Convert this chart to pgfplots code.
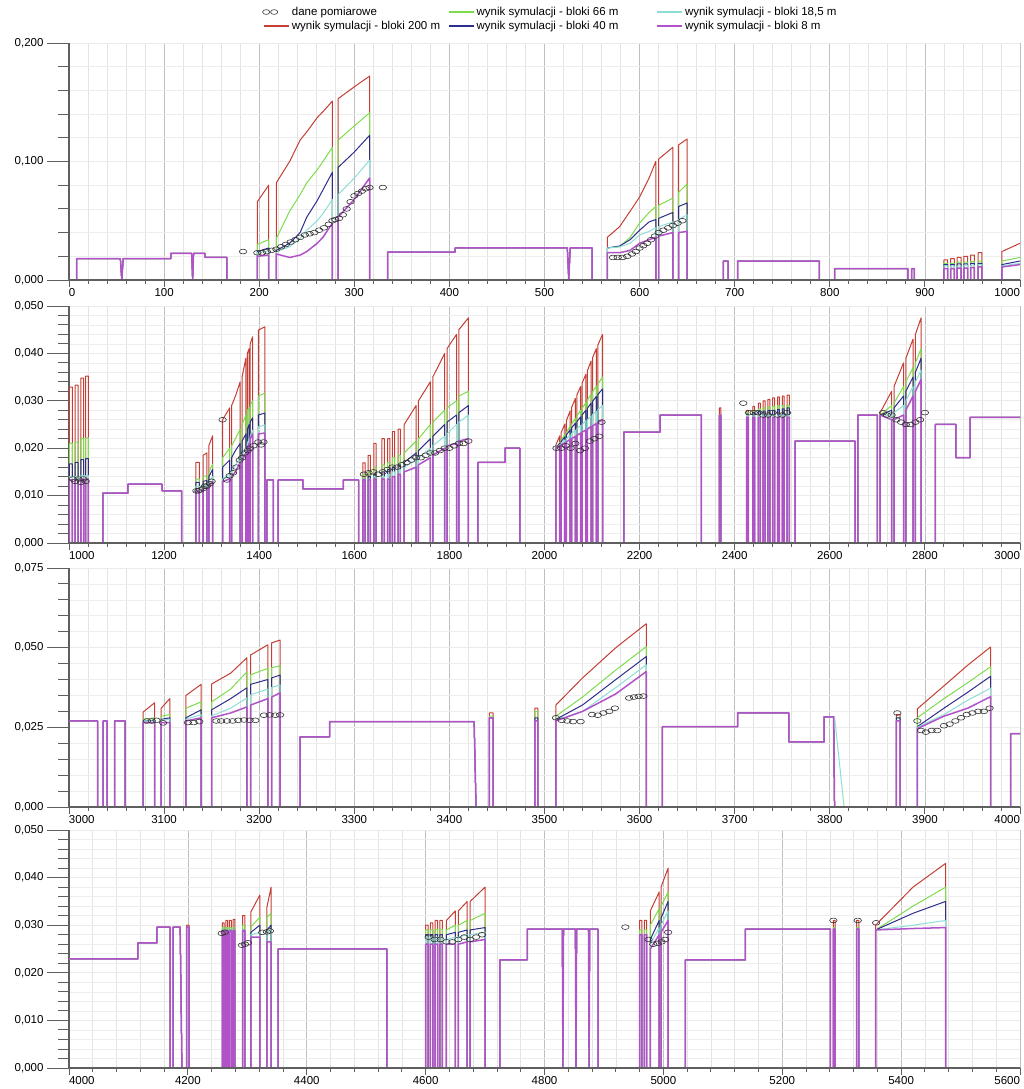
\documentclass[border=0pt]{standalone}
\usepackage{fontspec}
\setmainfont{Liberation Sans}
\usepackage{pgfplots}
\usepackage{pgfplotstable}
\pgfplotsset{compat=1.18}
\definecolor{cR}{RGB}{196,62,52}
\definecolor{cG}{RGB}{125,220,75}
\definecolor{cB}{RGB}{45,45,140}
\definecolor{cC}{RGB}{140,222,215}
\definecolor{cP}{RGB}{178,82,200}
\definecolor{axg}{RGB}{95,95,95}

\newcommand{\xnum}{\pgfmathprintnumber[assume math mode=true,1000 sep={}]{\tick}}
\pgfplotsset{
  panel/.style={
    scale only axis, width=951pt,
    axis lines*=left,
    axis line style={draw=axg, line width=1.1pt, -},
    tick align=outside,
    major tick length=22pt, minor tick length=11pt,
    ytick style={draw=axg, line width=0.9pt},
    xtick style={draw=axg, line width=0.9pt, /pgfplots/major tick length=7pt, /pgfplots/minor tick length=4pt},
    grid=both,
    major x grid style={draw=gray!50, line width=0.7pt},
    minor x grid style={draw=gray!22, line width=0.6pt},
    major y grid style={draw=gray!16, line width=0.6pt},
    minor y grid style={draw=gray!14, line width=0.6pt},
    minor x tick num=4, minor y tick num=4,
    scaled y ticks=false, scaled x ticks=false,
    yticklabel style={/pgf/number format/fixed, /pgf/number format/fixed zerofill, /pgf/number format/precision=3, /pgf/number format/use comma, /pgf/number format/assume math mode=true},
    xticklabel shift=-17pt,
    tick label style={font=\fontsize{11.5}{13}\selectfont},
    every axis plot/.append style={line width=1pt, line join=round},
  },
  xlab/.style={xticklabel={\ifnum\ticknum=0\relax\rlap{\xnum}\else\ifnum\ticknum=#1\relax\llap{\xnum}\else\xnum\fi\fi}},
  circ/.style={only marks, mark=o, mark size=2.8pt, mark options={xscale=1.35, yscale=0.85, line width=0.6pt, draw=black!80}},
  purp/.style={cP, line width=1.5pt},
}

\pgfplotstableread{
x r g b c p
0 0 0 0 0 0
8 0 0 0 0 0
8 0.018 0.018 0.018 0.018 0.018
54 0.018 0.018 0.018 0.018 0.018
55.5 0 0 0 0 0
57 0.018 0.018 0.018 0.018 0.018
107 0.018 0.018 0.018 0.018 0.018
107 0.0225 0.0225 0.0225 0.0225 0.0225
129 0.0225 0.0225 0.0225 0.0225 0.0225
130 0 0 0 0 0
131 0.0225 0.0225 0.0225 0.0225 0.0225
143 0.0225 0.0225 0.0225 0.0225 0.0225
143 0.019 0.019 0.019 0.019 0.019
166 0.019 0.019 0.019 0.019 0.019
166 0 0 0 0 0
198 0 0 0 0 0
198 0.066 0.030 0.024 0.023 0.020
210 0.080 0.034 0.027 0.0245 0.021
210 0 0 0 0 0
218 0 0 0 0 0
218 0.082 0.035 0.025 0.024 0.022
232 0.100 0.058 0.031 0.028 0.019
243 0.118 0.072 0.040 0.035 0.021
250 0.125 0.082 0.053 0.042 0.024
261 0.137 0.093 0.067 0.050 0.031
267 0.142 0.100 0.076 0.056 0.036
277 0.151 0.112 0.091 0.068 0.048
277 0 0 0 0 0
283 0 0 0 0 0
283 0.153 0.118 0.095 0.072 0.053
300 0.163 0.130 0.108 0.086 0.068
316 0.172 0.141 0.122 0.101 0.086
316 0 0 0 0 0
335 0 0 0 0 0
335 0.0236 0.0236 0.0236 0.0236 0.0236
406 0.0236 0.0236 0.0236 0.0236 0.0236
406 0.027 0.027 0.027 0.027 0.027
524 0.027 0.027 0.027 0.027 0.027
525.5 0 0 0 0 0
527 0.027 0.027 0.027 0.027 0.027
550 0.027 0.027 0.027 0.027 0.027
550 0 0 0 0 0
566 0 0 0 0 0
566 0.036 0.027 0.027 0.027 0.023
579 0.045 0.028 0.0287 0.028 0.023
590 0.058 0.036 0.034 0.031 0.025
600 0.070 0.048 0.042 0.038 0.031
610 0.086 0.057 0.049 0.041 0.034
617 0.100 0.062 0.051 0.044 0.036
617 0 0 0 0 0
620 0 0 0 0 0
620 0.102 0.063 0.052 0.045 0.037
635 0.112 0.069 0.057 0.049 0.040
635 0 0 0 0 0
641 0 0 0 0 0
641 0.114 0.074 0.062 0.051 0.040
650 0.119 0.081 0.065 0.055 0.041
650 0 0 0 0 0
688 0 0 0 0 0
688 0.016 0.016 0.016 0.016 0.016
693 0.016 0.016 0.016 0.016 0.016
693 0 0 0 0 0
703 0 0 0 0 0
703 0.016 0.016 0.016 0.016 0.016
789 0.016 0.016 0.016 0.016 0.016
789 0 0 0 0 0
805 0 0 0 0 0
805 0.0095 0.0095 0.0095 0.0095 0.0095
882 0.0095 0.0095 0.0095 0.0095 0.0095
882 0 0 0 0 0
886 0 0 0 0 0
886 0.0095 0.0095 0.0095 0.0095 0.0095
889 0.0095 0.0095 0.0095 0.0095 0.0095
889 0 0 0 0 0
920 0 0 0 0 0
920 0.017 0.014 0.013 0.012 0.0095
924 0.017 0.014 0.013 0.012 0.0095
924 0 0 0 0 0
927 0 0 0 0 0
927 0.018 0.014 0.013 0.012 0.0095
931 0.018 0.014 0.013 0.012 0.0095
931 0 0 0 0 0
934 0 0 0 0 0
934 0.019 0.015 0.0135 0.012 0.010
938 0.019 0.015 0.0135 0.012 0.010
938 0 0 0 0 0
941 0 0 0 0 0
941 0.020 0.015 0.0135 0.0125 0.010
945 0.020 0.015 0.0135 0.0125 0.010
945 0 0 0 0 0
948 0 0 0 0 0
948 0.021 0.0155 0.014 0.0125 0.0105
952 0.021 0.0155 0.014 0.0125 0.0105
952 0 0 0 0 0
956 0 0 0 0 0
956 0.023 0.016 0.014 0.013 0.011
960 0.023 0.016 0.014 0.013 0.011
960 0 0 0 0 0
981 0 0 0 0 0
981 0.024 0.016 0.013 0.012 0.011
1000 0.031 0.019 0.016 0.014 0.013
}\Tone

\pgfplotstableread{
x y
183 0.024
198 0.023
203 0.023
208 0.024
213 0.025
218 0.026
223 0.028
228 0.030
233 0.032
238 0.034
243 0.036
248 0.038
253 0.039
258 0.040
263 0.042
268 0.044
273 0.047
277 0.050
280 0.051
284 0.052
288 0.055
292 0.060
296 0.066
300 0.071
304 0.073
308 0.075
312 0.077
316 0.078
330 0.078
572 0.019
577 0.019
582 0.019
587 0.020
592 0.022
596 0.024
600 0.027
604 0.029
608 0.031
612 0.034
616 0.037
620 0.040
625 0.042
630 0.044
635 0.046
640 0.048
645 0.050
}\Mone

\pgfplotstableread{
x r g b c p
1000 0 0 0 0 0
1001 0 0 0 0 0
1001 0.0329 0.021 0.0167 0.014 0.0133
1007 0.0329 0.021 0.0167 0.014 0.0133
1007 0 0 0 0 0
1013 0 0 0 0 0
1013 0.0333 0.0213 0.017 0.014 0.0133
1019 0.0333 0.0213 0.017 0.014 0.0133
1019 0 0 0 0 0
1025 0 0 0 0 0
1025 0.0348 0.022 0.0176 0.0142 0.0135
1031 0.0348 0.022 0.0176 0.0142 0.0135
1031 0 0 0 0 0
1035 0 0 0 0 0
1035 0.0352 0.0222 0.0178 0.0142 0.0135
1041 0.0352 0.0222 0.0178 0.0142 0.0135
1041 0 0 0 0 0
1071 0 0 0 0 0
1071 0.0105 0.0105 0.0105 0.0105 0.0105
1124 0.0105 0.0105 0.0105 0.0105 0.0105
1124 0.0124 0.0124 0.0124 0.0124 0.0124
1196 0.0124 0.0124 0.0124 0.0124 0.0124
1196 0.011 0.011 0.011 0.011 0.011
1237 0.011 0.011 0.011 0.011 0.011
1237 0 0 0 0 0
1267 0 0 0 0 0
1267 0.017 0.0135 0.0128 0.012 0.011
1274 0.017 0.0135 0.0128 0.012 0.011
1274 0 0 0 0 0
1282 0 0 0 0 0
1282 0.0185 0.014 0.013 0.012 0.0115
1290 0.019 0.0142 0.0132 0.0122 0.0115
1290 0 0 0 0 0
1294 0 0 0 0 0
1294 0.0205 0.015 0.014 0.013 0.012
1302 0.0226 0.0166 0.0155 0.014 0.013
1302 0 0 0 0 0
1323 0 0 0 0 0
1323 0.026 0.018 0.016 0.0135 0.013
1338 0.0285 0.020 0.0175 0.0145 0.0135
1338 0 0 0 0 0
1342 0 0 0 0 0
1342 0.029 0.0205 0.018 0.015 0.014
1350 0.031 0.022 0.0195 0.0165 0.015
1360 0.034 0.024 0.021 0.018 0.017
1360 0 0 0 0 0
1364 0 0 0 0 0
1364 0.035 0.025 0.0215 0.0185 0.0175
1372 0.039 0.027 0.023 0.020 0.019
1372 0 0 0 0 0
1375 0 0 0 0 0
1375 0.040 0.028 0.024 0.021 0.020
1379 0.041 0.0285 0.025 0.022 0.021
1379 0 0 0 0 0
1381 0 0 0 0 0
1381 0.042 0.029 0.0255 0.0225 0.022
1386 0.0435 0.030 0.0264 0.0238 0.023
1386 0 0 0 0 0
1398 0 0 0 0 0
1398 0.0449 0.031 0.027 0.0245 0.023
1412 0.0456 0.0316 0.0274 0.0249 0.0232
1412 0 0 0 0 0
1416 0 0 0 0 0
1416 0.0133 0.0133 0.0133 0.0133 0.0133
1430 0.0133 0.0133 0.0133 0.0133 0.0133
1430 0 0 0 0 0
1440 0 0 0 0 0
1440 0.0133 0.0133 0.0133 0.0133 0.0133
1492 0.0133 0.0133 0.0133 0.0133 0.0133
1492 0.0114 0.0114 0.0114 0.0114 0.0114
1577 0.0114 0.0114 0.0114 0.0114 0.0114
1577 0.0133 0.0133 0.0133 0.0133 0.0133
1609 0.0133 0.0133 0.0133 0.0133 0.0133
1609 0 0 0 0 0
1618 0 0 0 0 0
1618 0.0169 0.0145 0.0135 0.0135 0.0133
1623 0.0169 0.0145 0.0135 0.0135 0.0133
1623 0 0 0 0 0
1629 0 0 0 0 0
1629 0.0185 0.015 0.014 0.0135 0.0133
1634 0.0185 0.015 0.014 0.0135 0.0133
1634 0 0 0 0 0
1641 0 0 0 0 0
1641 0.021 0.016 0.0145 0.014 0.0135
1646 0.021 0.016 0.0145 0.014 0.0135
1646 0 0 0 0 0
1658 0 0 0 0 0
1658 0.022 0.0165 0.015 0.014 0.0135
1663 0.022 0.0165 0.015 0.014 0.0135
1663 0 0 0 0 0
1670 0 0 0 0 0
1670 0.022 0.017 0.0155 0.0145 0.0135
1675 0.022 0.017 0.0155 0.0145 0.0135
1675 0 0 0 0 0
1680 0 0 0 0 0
1680 0.0235 0.018 0.016 0.015 0.014
1685 0.0235 0.018 0.016 0.015 0.014
1685 0 0 0 0 0
1692 0 0 0 0 0
1692 0.024 0.0185 0.0165 0.0155 0.0145
1697 0.024 0.0185 0.0165 0.0155 0.0145
1697 0 0 0 0 0
1705 0 0 0 0 0
1705 0.025 0.019 0.017 0.016 0.015
1730 0.029 0.0215 0.019 0.0175 0.016
1730 0 0 0 0 0
1735 0 0 0 0 0
1735 0.030 0.022 0.0195 0.018 0.0165
1760 0.034 0.025 0.022 0.020 0.018
1760 0 0 0 0 0
1765 0 0 0 0 0
1765 0.035 0.0255 0.0225 0.0205 0.0185
1790 0.040 0.028 0.025 0.0225 0.020
1790 0 0 0 0 0
1795 0 0 0 0 0
1795 0.041 0.0285 0.0255 0.023 0.0205
1815 0.044 0.030 0.027 0.025 0.021
1815 0 0 0 0 0
1820 0 0 0 0 0
1820 0.045 0.031 0.0275 0.0255 0.0215
1840 0.0475 0.032 0.029 0.027 0.022
1840 0 0 0 0 0
1860 0 0 0 0 0
1860 0.017 0.017 0.017 0.017 0.017
1917 0.017 0.017 0.017 0.017 0.017
1917 0.020 0.020 0.020 0.020 0.020
1948 0.020 0.020 0.020 0.020 0.020
1948 0 0 0 0 0
2024 0 0 0 0 0
2024 0.0207 0.0200 0.0200 0.0200 0.0200
2032 0.0226 0.0212 0.0210 0.0207 0.0205
2032 0 0 0 0 0
2035 0 0 0 0 0
2035 0.0233 0.0217 0.0214 0.0210 0.0207
2043 0.0251 0.0229 0.0224 0.0217 0.0211
2043 0 0 0 0 0
2046 0 0 0 0 0
2046 0.0258 0.0233 0.0228 0.0220 0.0213
2054 0.0279 0.0247 0.0239 0.0228 0.0219
2054 0 0 0 0 0
2057 0 0 0 0 0
2057 0.0286 0.0251 0.0243 0.0231 0.0220
2065 0.0305 0.0263 0.0253 0.0238 0.0225
2065 0 0 0 0 0
2068 0 0 0 0 0
2068 0.0312 0.0268 0.0256 0.0241 0.0227
2076 0.0330 0.0280 0.0266 0.0248 0.0232
2076 0 0 0 0 0
2079 0 0 0 0 0
2079 0.0337 0.0284 0.0270 0.0250 0.0234
2087 0.0356 0.0296 0.0280 0.0258 0.0238
2087 0 0 0 0 0
2090 0 0 0 0 0
2090 0.0363 0.0301 0.0284 0.0260 0.0240
2098 0.0384 0.0314 0.0295 0.0268 0.0246
2098 0 0 0 0 0
2101 0 0 0 0 0
2101 0.0391 0.0319 0.0299 0.0271 0.0247
2109 0.0410 0.0331 0.0309 0.0278 0.0252
2109 0 0 0 0 0
2112 0 0 0 0 0
2112 0.0417 0.0335 0.0313 0.0281 0.0254
2122 0.0440 0.0350 0.0325 0.0290 0.0260
2122 0 0 0 0 0
2167 0 0 0 0 0
2167 0.0234 0.0234 0.0234 0.0234 0.0234
2243 0.0234 0.0234 0.0234 0.0234 0.0234
2243 0.027 0.027 0.027 0.027 0.027
2330 0.027 0.027 0.027 0.027 0.027
2330 0 0 0 0 0
2368 0 0 0 0 0
2368 0.0285 0.027 0.027 0.027 0.027
2371 0.0285 0.027 0.027 0.027 0.027
2371 0 0 0 0 0
2425 0 0 0 0 0
2425 0.0280 0.0275 0.0272 0.027 0.0265
2429 0.0280 0.0275 0.0272 0.027 0.0265
2429 0 0 0 0 0
2438 0 0 0 0 0
2438 0.0288 0.028 0.0275 0.027 0.0265
2442 0.0288 0.028 0.0275 0.027 0.0265
2442 0 0 0 0 0
2450 0 0 0 0 0
2450 0.0295 0.0283 0.0277 0.027 0.0265
2454 0.0295 0.0283 0.0277 0.027 0.0265
2454 0 0 0 0 0
2460 0 0 0 0 0
2460 0.030 0.0285 0.0278 0.027 0.0265
2464 0.030 0.0285 0.0278 0.027 0.0265
2464 0 0 0 0 0
2470 0 0 0 0 0
2470 0.0303 0.0287 0.028 0.027 0.0265
2474 0.0303 0.0287 0.028 0.027 0.0265
2474 0 0 0 0 0
2480 0 0 0 0 0
2480 0.0306 0.0288 0.028 0.027 0.0265
2484 0.0306 0.0288 0.028 0.027 0.0265
2484 0 0 0 0 0
2490 0 0 0 0 0
2490 0.0308 0.029 0.0282 0.027 0.0265
2494 0.0308 0.029 0.0282 0.027 0.0265
2494 0 0 0 0 0
2500 0 0 0 0 0
2500 0.031 0.029 0.0283 0.027 0.0265
2504 0.031 0.029 0.0283 0.027 0.0265
2504 0 0 0 0 0
2510 0 0 0 0 0
2510 0.0312 0.029 0.0285 0.027 0.0265
2515 0.0312 0.029 0.0285 0.027 0.0265
2515 0 0 0 0 0
2527 0 0 0 0 0
2527 0.0215 0.0215 0.0215 0.0215 0.0215
2653 0.0215 0.0215 0.0215 0.0215 0.0215
2653 0 0 0 0 0
2659 0 0 0 0 0
2659 0.027 0.027 0.027 0.027 0.027
2700 0.027 0.027 0.027 0.027 0.027
2700 0 0 0 0 0
2706 0 0 0 0 0
2706 0.0275 0.027 0.027 0.027 0.027
2730 0.032 0.029 0.028 0.027 0.026
2730 0 0 0 0 0
2735 0 0 0 0 0
2735 0.033 0.0295 0.0285 0.0275 0.026
2755 0.038 0.033 0.031 0.029 0.027
2755 0 0 0 0 0
2760 0 0 0 0 0
2760 0.039 0.034 0.032 0.030 0.028
2775 0.043 0.037 0.035 0.033 0.031
2775 0 0 0 0 0
2780 0 0 0 0 0
2780 0.044 0.038 0.036 0.034 0.032
2792 0.0475 0.041 0.039 0.0365 0.0345
2792 0 0 0 0 0
2822 0 0 0 0 0
2822 0.025 0.025 0.025 0.025 0.025
2865 0.025 0.025 0.025 0.025 0.025
2865 0.018 0.018 0.018 0.018 0.018
2895 0.018 0.018 0.018 0.018 0.018
2895 0.0265 0.0265 0.0265 0.0265 0.0265
3000 0.0265 0.0265 0.0265 0.0265 0.0265
}\Ttwo

\pgfplotstableread{
x y
1008 0.0135
1013 0.013
1020 0.0135
1025 0.0128
1030 0.0135
1035 0.013
1268 0.011
1272 0.011
1276 0.0112
1282 0.0115
1286 0.012
1290 0.012
1296 0.0125
1300 0.013
1323 0.026
1332 0.0133
1338 0.0142
1345 0.0148
1352 0.016
1359 0.0175
1364 0.018
1370 0.019
1376 0.0195
1381 0.020
1388 0.0205
1398 0.0213
1404 0.0207
1409 0.0213
1620 0.0145
1630 0.0148
1640 0.015
1650 0.0145
1660 0.015
1670 0.0155
1680 0.016
1690 0.016
1700 0.0165
1710 0.017
1720 0.0175
1730 0.018
1740 0.018
1750 0.0185
1760 0.019
1770 0.019
1780 0.0195
1790 0.020
1800 0.020
1810 0.0205
1820 0.021
1830 0.021
1840 0.0215
2025 0.020
2035 0.020
2045 0.0205
2055 0.020
2065 0.021
2075 0.0195
2085 0.020
2095 0.0215
2105 0.022
2115 0.0225
2120 0.0255
2418 0.0295
2430 0.0275
2440 0.0275
2450 0.0275
2460 0.027
2470 0.027
2480 0.0275
2490 0.027
2500 0.027
2510 0.0275
2712 0.0275
2720 0.027
2730 0.027
2740 0.026
2750 0.0255
2760 0.025
2770 0.025
2780 0.0255
2790 0.026
2800 0.0275
}\Mtwo

\pgfplotstableread{
x r g b c p
3000 0.027 0.027 0.027 0.027 0.027
3030 0.027 0.027 0.027 0.027 0.027
3030 0 0 0 0 0
3036 0 0 0 0 0
3036 0.027 0.027 0.027 0.027 0.027
3040 0.027 0.027 0.027 0.027 0.027
3040 0 0 0 0 0
3048 0 0 0 0 0
3048 0.027 0.027 0.027 0.027 0.027
3059 0.027 0.027 0.027 0.027 0.027
3059 0 0 0 0 0
3078 0 0 0 0 0
3078 0.0298 0.0275 0.027 0.027 0.0265
3090 0.0327 0.028 0.0272 0.027 0.0265
3090 0 0 0 0 0
3097 0 0 0 0 0
3097 0.031 0.0285 0.0275 0.0272 0.0265
3106 0.034 0.029 0.028 0.0275 0.0265
3106 0 0 0 0 0
3123 0 0 0 0 0
3123 0.035 0.031 0.028 0.0275 0.027
3139 0.0385 0.033 0.0305 0.029 0.028
3139 0 0 0 0 0
3150 0 0 0 0 0
3150 0.0386 0.033 0.0305 0.0286 0.028
3170 0.042 0.037 0.034 0.031 0.0295
3187 0.0468 0.0424 0.0374 0.0342 0.0314
3187 0 0 0 0 0
3191 0 0 0 0 0
3191 0.0477 0.0415 0.0385 0.0352 0.032
3209 0.0509 0.0435 0.0400 0.0370 0.0340
3209 0 0 0 0 0
3213 0 0 0 0 0
3213 0.0515 0.0437 0.0405 0.0375 0.0345
3222 0.0524 0.0443 0.0414 0.0383 0.0358
3222 0 0 0 0 0
3243 0 0 0 0 0
3243 0.022 0.022 0.022 0.022 0.022
3274 0.022 0.022 0.022 0.022 0.022
3274 0.0268 0.0268 0.0268 0.0268 0.0268
3426 0.0268 0.0268 0.0268 0.0268 0.0268
3428 0 0 0 0 0
3442 0 0 0 0 0
3442 0.0295 0.0285 0.028 0.028 0.028
3446 0.0295 0.0285 0.028 0.028 0.028
3446 0 0 0 0 0
3490 0 0 0 0 0
3490 0.031 0.030 0.028 0.027 0.027
3493 0.031 0.030 0.028 0.027 0.027
3493 0 0 0 0 0
3512 0 0 0 0 0
3512 0.032 0.0285 0.0275 0.0272 0.027
3540 0.0405 0.0345 0.032 0.030 0.030
3575 0.050 0.043 0.040 0.0375 0.0355
3607 0.0575 0.0503 0.0472 0.0446 0.0425
3607 0 0 0 0 0
3624 0 0 0 0 0
3624 0.0252 0.0252 0.0252 0.0252 0.0252
3703 0.0252 0.0252 0.0252 0.0252 0.0252
3703 0.0295 0.0295 0.0295 0.0295 0.0295
3757 0.0295 0.0295 0.0295 0.0295 0.0295
3757 0.0204 0.0204 0.0204 0.0204 0.0204
3794 0.0204 0.0204 0.0204 0.0204 0.0204
3794 0.0283 0.0283 0.0283 0.0283 0.0283
3804 0.0283 0.0283 0.0283 0.0283 0.0283
3805 0 0 0 0.0283 0
3815 0 0 0 0 0
3870 0 0 0 0 0
3870 0.029 0.028 0.028 0.027 0.027
3874 0.029 0.028 0.028 0.027 0.027
3874 0 0 0 0 0
3892 0 0 0 0 0
3892 0.0308 0.028 0.0252 0.025 0.0246
3920 0.038 0.034 0.031 0.029 0.0285
3945 0.0445 0.039 0.036 0.0335 0.031
3969 0.0502 0.044 0.041 0.0373 0.0346
3969 0 0 0 0 0
3990 0 0 0 0 0
3990 0.023 0.023 0.023 0.023 0.023
4000 0.023 0.023 0.023 0.023 0.023
}\Tthree

\pgfplotstableread{
x y
3082 0.027
3087 0.027
3092 0.0272
3099 0.0264
3125 0.0265
3131 0.0265
3137 0.0268
3155 0.027
3160 0.027
3166 0.027
3172 0.027
3178 0.0272
3184 0.0273
3190 0.0272
3196 0.0272
3205 0.0288
3211 0.0289
3217 0.0288
3222 0.0289
3512 0.028
3518 0.0272
3524 0.027
3530 0.0268
3538 0.0268
3550 0.029
3556 0.0288
3562 0.0295
3568 0.030
3574 0.031
3589 0.0342
3594 0.0345
3599 0.0347
3604 0.0348
3871 0.0295
3892 0.027
3896 0.024
3901 0.0235
3907 0.024
3913 0.024
3920 0.0255
3926 0.026
3932 0.027
3938 0.028
3944 0.029
3950 0.0295
3956 0.030
3962 0.030
3968 0.031
}\Mthree

\pgfplotstableread{
x r g b c p
4000 0.0229 0.0229 0.0229 0.0229 0.0229
4116 0.0229 0.0229 0.0229 0.0229 0.0229
4116 0.0263 0.0263 0.0263 0.0263 0.0263
4148 0.0263 0.0263 0.0263 0.0263 0.0263
4148 0.0296 0.0296 0.0296 0.0296 0.0296
4170 0.0296 0.0296 0.0296 0.0296 0.0296
4170 0 0 0 0 0
4175 0 0 0 0 0
4175 0.0296 0.0296 0.0296 0.0296 0.0296
4187 0.0296 0.0296 0.0296 0.0296 0.0296
4190 0 0 0 0 0
4198 0 0 0 0 0
4198 0.030 0.0296 0.0296 0.0296 0.0296
4202 0.030 0.0296 0.0296 0.0296 0.0296
4202 0 0 0 0 0
4258 0 0 0 0 0
4258 0.0305 0.0295 0.029 0.029 0.0288
4261 0.0305 0.0295 0.029 0.029 0.0288
4261 0 0 0 0 0
4264 0 0 0 0 0
4264 0.031 0.0295 0.029 0.029 0.0288
4267 0.031 0.0295 0.029 0.029 0.0288
4267 0 0 0 0 0
4270 0 0 0 0 0
4270 0.031 0.0295 0.029 0.029 0.0288
4273 0.031 0.0295 0.029 0.029 0.0288
4273 0 0 0 0 0
4276 0 0 0 0 0
4276 0.0312 0.0295 0.029 0.029 0.0288
4279 0.0312 0.0295 0.029 0.029 0.0288
4279 0 0 0 0 0
4292 0 0 0 0 0
4292 0.032 0.030 0.029 0.029 0.0288
4296 0.032 0.030 0.029 0.029 0.0288
4296 0 0 0 0 0
4306 0 0 0 0 0
4306 0.0328 0.0296 0.0285 0.028 0.0275
4321 0.0363 0.0317 0.030 0.0285 0.0275
4321 0 0 0 0 0
4333 0 0 0 0 0
4333 0.0338 0.0317 0.029 0.0285 0.0265
4340 0.038 0.0325 0.030 0.029 0.0265
4340 0 0 0 0 0
4352 0 0 0 0 0
4352 0.025 0.025 0.025 0.025 0.025
4535 0.025 0.025 0.025 0.025 0.025
4535 0 0 0 0 0
4600 0 0 0 0 0
4600 0.030 0.029 0.028 0.0275 0.026
4604 0.030 0.029 0.028 0.0275 0.026
4604 0 0 0 0 0
4608 0 0 0 0 0
4608 0.0305 0.029 0.028 0.0275 0.026
4612 0.0305 0.029 0.028 0.0275 0.026
4612 0 0 0 0 0
4616 0 0 0 0 0
4616 0.031 0.0292 0.028 0.0275 0.026
4620 0.031 0.0292 0.028 0.0275 0.026
4620 0 0 0 0 0
4624 0 0 0 0 0
4624 0.031 0.0292 0.028 0.0275 0.026
4628 0.031 0.0292 0.028 0.0275 0.026
4628 0 0 0 0 0
4635 0 0 0 0 0
4635 0.031 0.029 0.028 0.027 0.026
4650 0.033 0.030 0.0285 0.0275 0.026
4650 0 0 0 0 0
4655 0 0 0 0 0
4655 0.033 0.030 0.0285 0.0275 0.026
4670 0.035 0.031 0.029 0.028 0.0265
4670 0 0 0 0 0
4675 0 0 0 0 0
4675 0.035 0.031 0.029 0.028 0.0265
4700 0.038 0.0325 0.0295 0.0285 0.027
4700 0 0 0 0 0
4725 0 0 0 0 0
4725 0.0227 0.0227 0.0227 0.0227 0.0227
4771 0.0227 0.0227 0.0227 0.0227 0.0227
4771 0.0292 0.0292 0.0292 0.0292 0.0292
4830 0.0292 0.0292 0.0292 0.0292 0.0292
4831 0 0 0 0 0
4832 0.0292 0.0292 0.0292 0.0292 0.0292
4852 0.0292 0.0292 0.0292 0.0292 0.0292
4853 0 0 0 0 0
4854 0.0292 0.0292 0.0292 0.0292 0.0292
4874 0.0292 0.0292 0.0292 0.0292 0.0292
4875 0 0 0 0 0
4876 0.0292 0.0292 0.0292 0.0292 0.0292
4890 0.0292 0.0292 0.0292 0.0292 0.0292
4890 0 0 0 0 0
4960 0 0 0 0 0
4960 0.031 0.029 0.028 0.028 0.028
4964 0.031 0.029 0.028 0.028 0.028
4964 0 0 0 0 0
4968 0 0 0 0 0
4968 0.031 0.029 0.028 0.028 0.028
4972 0.031 0.029 0.028 0.028 0.028
4972 0 0 0 0 0
4978 0 0 0 0 0
4978 0.033 0.030 0.027 0.026 0.025
4993 0.037 0.0335 0.031 0.0295 0.028
4993 0 0 0 0 0
4996 0 0 0 0 0
4996 0.038 0.034 0.0315 0.030 0.0285
5008 0.042 0.037 0.035 0.033 0.031
5008 0 0 0 0 0
5037 0 0 0 0 0
5037 0.0227 0.0227 0.0227 0.0227 0.0227
5138 0.0227 0.0227 0.0227 0.0227 0.0227
5138 0.0292 0.0292 0.0292 0.0292 0.0292
5281 0.0292 0.0292 0.0292 0.0292 0.0292
5281 0 0 0 0 0
5286 0 0 0 0 0
5286 0.031 0.0295 0.0292 0.0292 0.0292
5289 0.031 0.0295 0.0292 0.0292 0.0292
5289 0 0 0 0 0
5325 0 0 0 0 0
5325 0.031 0.0295 0.0292 0.0292 0.0292
5329 0.031 0.0295 0.0292 0.0292 0.0292
5329 0 0 0 0 0
5357 0 0 0 0 0
5357 0.030 0.029 0.029 0.029 0.029
5420 0.038 0.034 0.0325 0.030 0.0293
5475 0.043 0.038 0.035 0.031 0.0295
5475 0 0 0 0 0
5600 0 0 0 0 0
}\Tfour

\pgfplotstableread{
x y
4257 0.0283
4262 0.0285
4291 0.0258
4296 0.026
4301 0.0263
4325 0.0285
4333 0.0286
4338 0.0288
4605 0.0275
4615 0.027
4625 0.027
4635 0.0265
4645 0.0265
4655 0.027
4665 0.0275
4675 0.027
4685 0.0275
4695 0.028
4936 0.0296
4975 0.027
4983 0.026
4990 0.0262
4997 0.0265
5003 0.027
5008 0.0285
5286 0.031
5327 0.031
5358 0.0305
}\Mfour

\begin{document}
\begin{tikzpicture}
\useasboundingbox (0,0) rectangle (1024pt,1089pt);

% ---------- panel 1 ----------
\begin{axis}[panel, xlab=10, at={(69pt,809pt)}, anchor=south west, height=237pt,
  xmin=0, xmax=1000, ymin=0, ymax=0.2,
  xtick={0,100,200,300,400,500,600,700,800,900,1000},
  ytick={0,0.1,0.2},
  legend columns=3,
  legend cell align=left,
  legend image code/.code={\draw[#1] (0pt,0pt) -- (25pt,0pt);},
  legend style={draw=none, fill=none, inner sep=0pt,
    font=\fontsize{11.5}{13.5}\selectfont,
    at={(0.203,1)}, anchor=south west, yshift=10pt,
    /tikz/column 2/.style={column sep=6pt},
    /tikz/column 4/.style={column sep=36pt}},
]
\addlegendimage{legend image code/.code={\draw[black!80, line width=0.6pt] (2pt,0pt) ellipse (3.6pt and 2.4pt); \draw[black!80, line width=0.6pt] (10pt,0pt) ellipse (3.6pt and 2.4pt);}}
\addlegendentry{dane pomiarowe}
\addlegendimage{cG, line width=1.5pt}
\addlegendentry{wynik symulacji - bloki 66 m}
\addlegendimage{cC, line width=1.5pt}
\addlegendentry{wynik symulacji - bloki 18,5 m}
\addlegendimage{cR, line width=1.5pt}
\addlegendentry{wynik symulacji - bloki 200 m}
\addlegendimage{cB, line width=1.5pt}
\addlegendentry{wynik symulacji - bloki 40 m}
\addlegendimage{cP, line width=1.5pt}
\addlegendentry{wynik symulacji - bloki 8 m}
\addplot[cR, forget plot] table[x=x, y=r] {\Tone};
\addplot[cG, forget plot] table[x=x, y=g] {\Tone};
\addplot[cB, forget plot] table[x=x, y=b] {\Tone};
\addplot[cC, forget plot] table[x=x, y=c] {\Tone};
\addplot[purp, forget plot] table[x=x, y=p] {\Tone};
\addplot[circ, forget plot] table[x=x, y=y] {\Mone};
\draw[axg, line width=1.2pt] (rel axis cs:0,0) -- (rel axis cs:1,0);
\end{axis}

% ---------- panel 2 ----------
\begin{axis}[panel, xlab=10, at={(69pt,546pt)}, anchor=south west, height=237pt,
  xmin=1000, xmax=3000, ymin=0, ymax=0.05,
  xtick={1000,1200,1400,1600,1800,2000,2200,2400,2600,2800,3000},
  ytick={0,0.01,0.02,0.03,0.04,0.05},
]
\addplot[cR] table[x=x, y=r] {\Ttwo};
\addplot[cG] table[x=x, y=g] {\Ttwo};
\addplot[cB] table[x=x, y=b] {\Ttwo};
\addplot[cC] table[x=x, y=c] {\Ttwo};
\addplot[purp] table[x=x, y=p] {\Ttwo};
\addplot[circ] table[x=x, y=y] {\Mtwo};
\draw[axg, line width=1.2pt] (rel axis cs:0,0) -- (rel axis cs:1,0);
\end{axis}

% ---------- panel 3 ----------
\begin{axis}[panel, xlab=10, at={(69pt,282pt)}, anchor=south west, height=239pt,
  xmin=3000, xmax=4000, ymin=0, ymax=0.075,
  xtick={3000,3100,3200,3300,3400,3500,3600,3700,3800,3900,4000},
  ytick={0,0.025,0.05,0.075},
]
\addplot[cR] table[x=x, y=r] {\Tthree};
\addplot[cG] table[x=x, y=g] {\Tthree};
\addplot[cB] table[x=x, y=b] {\Tthree};
\addplot[cC] table[x=x, y=c] {\Tthree};
\addplot[purp] table[x=x, y=p] {\Tthree};
\addplot[circ] table[x=x, y=y] {\Mthree};
\draw[axg, line width=1.2pt] (rel axis cs:0,0) -- (rel axis cs:1,0);
\end{axis}

% ---------- panel 4 ----------
\begin{axis}[panel, xlab=8, at={(69pt,21pt)}, anchor=south west, height=238pt,
  xmin=4000, xmax=5600, ymin=0, ymax=0.05,
  xtick={4000,4200,4400,4600,4800,5000,5200,5400,5600},
  ytick={0,0.01,0.02,0.03,0.04,0.05},
]
\addplot[cR] table[x=x, y=r] {\Tfour};
\addplot[cG] table[x=x, y=g] {\Tfour};
\addplot[cB] table[x=x, y=b] {\Tfour};
\addplot[cC] table[x=x, y=c] {\Tfour};
\addplot[purp] table[x=x, y=p] {\Tfour};
\addplot[circ] table[x=x, y=y] {\Mfour};
\draw[axg, line width=1.2pt] (rel axis cs:0,0) -- (rel axis cs:1,0);
\end{axis}
\end{tikzpicture}
\end{document}
